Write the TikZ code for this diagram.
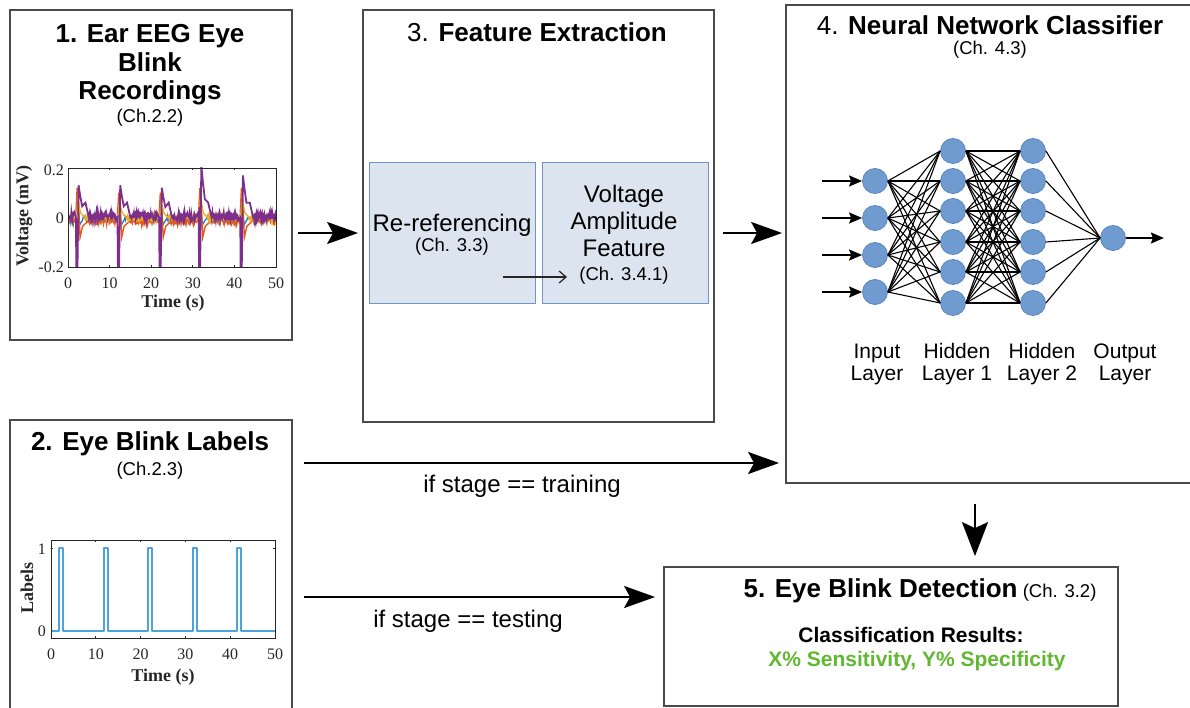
\documentclass[tikz,border=0pt]{standalone}
\usepackage{fontspec}
\setmainfont{Liberation Sans}
\newfontfamily\plotserif{Liberation Serif}
\usetikzlibrary{arrows.meta}
\definecolor{boxgray}{HTML}{4A4A4A}
\definecolor{innerfill}{HTML}{DCE4EF}
\definecolor{innerdraw}{HTML}{6F95C8}
\definecolor{nnfill}{HTML}{6F9BD1}
\definecolor{nndraw}{HTML}{5A86C0}
\definecolor{resgreen}{HTML}{62B832}
\definecolor{eegblue}{HTML}{2A7BC0}
\definecolor{eegorange}{HTML}{E2591B}
\definecolor{eegyellow}{HTML}{EDB120}
\definecolor{eegpurple}{HTML}{7E2F8E}
\definecolor{lblblue}{HTML}{4DA3DD}
\definecolor{axgray}{HTML}{262626}
\begin{document}
\begin{tikzpicture}[x=1pt,y=-1pt,
  box/.style={draw=boxgray, line width=1.8pt, inner sep=0pt},
  inner/.style={draw=innerdraw, fill=innerfill, line width=1pt, inner sep=0pt, minimum width=166pt, minimum height=141pt},
  neuron/.style={circle, fill=nnfill, draw=nndraw, line width=0.8pt, minimum size=25pt, inner sep=0pt},
  ttl/.style={anchor=base, inner sep=0pt, font=\fontsize{26}{29}\selectfont\bfseries},
  chap/.style={anchor=base, inner sep=0pt, font=\fontsize{18.5}{21}\selectfont},
  mid/.style={anchor=base, inner sep=0pt, font=\fontsize{24}{27}\selectfont},
  lay/.style={anchor=base, inner sep=0pt, font=\fontsize{21}{23}\selectfont},
  cond/.style={anchor=base, inner sep=0pt, font=\fontsize{24}{27}\selectfont},
  res/.style={anchor=base, inner sep=0pt, font=\fontsize{21}{23}\selectfont\bfseries},
  bigarr/.style={line width=2.2pt, -{Stealth[length=31pt,width=22pt,inset=6pt]}},
  nnarr/.style={line width=1.6pt, -{Stealth[length=13pt,width=11pt,inset=2pt]}},
  smallarr/.style={line width=1.2pt, draw=axgray, -{Straight Barb[length=7pt,width=12pt]}},
  edge/.style={line width=1.1pt, black},
  tickl/.style={inner sep=0pt, font=\plotserif\fontsize{16}{18}\selectfont, text=axgray},
  axlbl/.style={inner sep=0pt, font=\plotserif\bfseries\fontsize{18}{20}\selectfont, text=axgray}
]
\useasboundingbox (0,0) rectangle (1190,708);
\clip (0,0) rectangle (1190,708);
\pgfmathsetseed{7}

% ---------- main boxes ----------
\node[box, minimum width=282pt, minimum height=330pt] (b1) at (151,175) {};
\node[box, minimum width=282pt, minimum height=320pt] (b2) at (151,580) {};
\node[box, minimum width=351pt, minimum height=412pt] (b3) at (538.5,216) {};
\node[box, minimum width=430pt, minimum height=478pt] (b4) at (1001,244) {};
\node[box, minimum width=454pt, minimum height=139pt] (b5) at (891,636.5) {};

% ---------- titles ----------
\node[ttl] (t1a) at (150,43) {1. Ear EEG Eye};
\node[ttl] (t1b) at (150,72) {Blink};
\node[ttl] (t1c) at (150,100) {Recordings};
\node[chap] (c1) at (150,123) {(Ch.2.2)};
\node[ttl] (t2) at (150,450) {2. Eye Blink Labels};
\node[chap] (c2) at (150,475) {(Ch.2.3)};
\node[ttl] (t3) at (537,42) {{\mdseries 3.} Feature Extraction};
\node[ttl] (t4) at (990,35) {{\mdseries 4.} Neural Network Classifier};
\node[chap] (c4) at (990,55) {(Ch. 4.3)};

% ---------- feature extraction inner boxes ----------
\node[inner] (fa) at (452,233.5) {};
\node[inner] (fb) at (625,233.5) {};
\node[mid] (fa1) at (452,232) {Re-referencing};
\node[chap] (fa2) at (452,252) {(Ch. 3.3)};
\node[mid] (fb1) at (624,203) {Voltage};
\node[mid] (fb2) at (624,230) {Amplitude};
\node[mid] (fb3) at (624,257) {Feature};
\node[chap] (fb4) at (624,280) {(Ch. 3.4.1)};
\coordinate (sa) at (503,277);
\coordinate (sb) at (567,277);
\draw[smallarr] (sa) -- (sb);

% ---------- neural network ----------
\foreach \i/\y in {1/181,2/218,3/255,4/292} \node[neuron] (in\i) at (875,\y) {};
\foreach \i/\y in {1/151,2/181,3/211,4/242,5/272,6/303} {
  \node[neuron] (ha\i) at (953,\y) {};
  \node[neuron] (hb\i) at (1033,\y) {};
}
\node[neuron] (out) at (1113,238) {};
\foreach \i in {1,...,4} \foreach \j in {1,...,6} \draw[edge] (in\i.east) -- (ha\j.west);
\foreach \i in {1,...,6} \foreach \j in {1,...,6} \draw[edge] (ha\i.east) -- (hb\j.west);
\foreach \i in {1,...,6} \draw[edge] (hb\i.east) -- (out.west);
\foreach \i in {1,...,4} \draw[nnarr] ([xshift=-40pt]in\i.west) -- (in\i.west);
\draw[nnarr] (out.east) -- ([xshift=38pt]out.east);
\node[lay] (l1a) at (877,358) {Input};
\node[lay] (l1b) at (877,380) {Layer};
\node[lay] (l2a) at (957,358) {Hidden};
\node[lay] (l2b) at (957,380) {Layer 1};
\node[lay] (l3a) at (1042,358) {Hidden};
\node[lay] (l3b) at (1042,380) {Layer 2};
\node[lay] (l4a) at (1125,358) {Output};
\node[lay] (l4b) at (1125,380) {Layer};

% ---------- detection box text ----------
\node[chap] (t5) at (920,597) {{\fontsize{26}{29}\selectfont\bfseries 5. Eye Blink Detection} (Ch. 3.2)};
\node[res] (r1) at (911,642) {Classification Results:};
\node[res, text=resgreen] (r2) at (917,666) {X\% Sensitivity, Y\% Specificity};

% ---------- connectors between boxes ----------
\coordinate (y233) at (0,233);
\coordinate (y463) at (0,463);
\coordinate (y597) at (0,597);
\draw[bigarr, shorten <=5pt, shorten >=4pt] (b1.east |- y233) -- (b3.west |- y233);
\draw[bigarr, shorten <=8pt, shorten >=3pt] (b3.east |- y233) -- (b4.west |- y233);
\draw[bigarr, shorten <=11pt, shorten >=6pt] (b2.east |- y463) -- (b4.west |- y463);
\draw[bigarr, shorten <=11pt, shorten >=8pt] (b2.east |- y597) -- (b5.west |- y597);
\coordinate (dn) at (975,0);
\draw[line width=2.2pt, -{Stealth[length=34pt,width=26pt,inset=6pt]}, shorten <=20pt, shorten >=10pt] (b4.south -| dn) -- (b5.north -| dn);
\node[cond] (lt) at (522,492) {if stage == training};
\node[cond] (ls) at (468,627) {if stage == testing};

% ---------- EEG plot ----------
\begin{scope}[shift={(68pt,-217.5pt)}, x=4.16pt, y=247.5pt]
  \begin{scope}
    \clip (0,-0.2) rectangle (50,0.2);
    \draw[eegblue, line width=1.3pt] (0,-0.03) -- plot[domain=0:1.5, samples=12] (\x,{-0.02+0.012*rand})
      \foreach \tk/\pk in {2/0.05,12/0.05,22/0.04,31.5/0.06,41.5/0.05} {
        -- (\tk,0.0) -- (\tk+0.4,\pk) -- (\tk+0.8,-0.03) -- (\tk+1.5,-0.01)
        -- plot[domain=\tk+1.7:\tk+9.4, samples=60] (\x,{-0.005+0.012*rand}) };
    \draw[eegorange, line width=1.4pt] (0,-0.02) -- plot[domain=0:1.5, samples=12] (\x,{-0.015+0.012*rand})
      \foreach \tk/\pk in {2/0.12,12/0.1,22/0.1,31.5/0.12,41.5/0.12} {
        -- (\tk-0.2,-0.02) -- (\tk+0.2,\pk) -- (\tk+0.6,0.02) -- (\tk+0.9,-0.08) -- (\tk+1.5,-0.035) -- (\tk+2.5,-0.02)
        -- plot[domain=\tk+2.7:\tk+9.4, samples=55] (\x,{-0.015+0.012*rand}) };
    \draw[eegyellow, line width=1.4pt] (0,0) -- plot[domain=0:1.5, samples=12] (\x,{0.0+0.012*rand})
      \foreach \tk/\pk in {2/0.07,12/0.06,22/0.06,31.5/0.08,41.5/0.07} {
        -- (\tk,0.0) -- (\tk+0.4,\pk) -- (\tk+1,0.02) -- (\tk+2,0.0)
        -- plot[domain=\tk+2.2:\tk+9.4, samples=60] (\x,{0.0+0.012*rand}) };
    \draw[eegpurple, line width=1.8pt] (0,0.01) -- plot[domain=0:1.5, samples=12] (\x,{0.008+0.016*rand})
      \foreach \tk/\pk in {2/0.13,12/0.13,22/0.12,31.5/0.21,41.5/0.17} {
        -- (\tk-0.1,0.0) -- (\tk+0.05,-0.3) -- (\tk+0.2,-0.3) -- (\tk+0.55,\pk) -- (\tk+0.9,0.7*\pk) -- (\tk+1.4,0.35*\pk) -- (\tk+2.2,0.06) -- (\tk+3,0.0)
        -- plot[domain=\tk+3.2:\tk+9.4, samples=60] (\x,{0.005+0.016*rand}) };
  \end{scope}
  \draw[axgray, line width=0.9pt] (0,-0.2) rectangle (50,0.2);
  \foreach \t in {10,20,30,40} {
    \draw[axgray, line width=0.9pt] (\t,-0.2) -- (\t,-0.19);
    \draw[axgray, line width=0.9pt] (\t,0.2) -- (\t,0.19);
  }
  \draw[axgray, line width=0.9pt] (0,0) -- (0.4,0);
  \draw[axgray, line width=0.9pt] (50,0) -- (49.6,0);
\end{scope}
\node[tickl, anchor=east] (ey1) at (64,170) {0.2};
\node[tickl, anchor=east] (ey2) at (64,218) {0};
\node[tickl, anchor=east] (ey3) at (64,267) {-0.2};
\foreach \t in {0,10,20,30,40,50} \node[tickl, anchor=base] (ex\t) at ({68+4.16*\t},289) {\t};
\node[axlbl, anchor=base] (exl) at (173,308) {Time (s)};
\node[axlbl, rotate=90] (eyl) at (24,216) {Voltage (mV)};

% ---------- labels plot ----------
\begin{scope}[shift={(51pt,-631pt)}, x=4.48pt, y=83pt]
  \draw[lblblue, line width=1.7pt, line join=round] (0,0)
    \foreach \tk in {1.8,11.8,21.6,31.7,41.5} { -- (\tk,0) -- (\tk,1) -- (\tk+0.9,1) -- (\tk+0.9,0) } -- (50,0);
  \draw[axgray, line width=0.9pt] (0,-0.085) rectangle (50,1.096);
  \foreach \t in {10,20,30,40} {
    \draw[axgray, line width=0.9pt] (\t,-0.085) -- (\t,-0.06);
    \draw[axgray, line width=0.9pt] (\t,1.096) -- (\t,1.071);
  }
  \draw[axgray, line width=0.9pt] (0,1) -- (0.4,1);
  \draw[axgray, line width=0.9pt] (50,1) -- (49.6,1);
\end{scope}
\node[tickl, anchor=east] (ly1) at (46,549) {1};
\node[tickl, anchor=east] (ly0) at (46,631) {0};
\foreach \t in {0,10,20,30,40,50} \node[tickl, anchor=base] (lx\t) at ({51+4.48*\t},659) {\t};
\node[axlbl, anchor=base] (lxl) at (163,681) {Time (s)};
\node[axlbl, rotate=90] (lyl) at (27,588) {Labels};
\end{tikzpicture}
\end{document}
